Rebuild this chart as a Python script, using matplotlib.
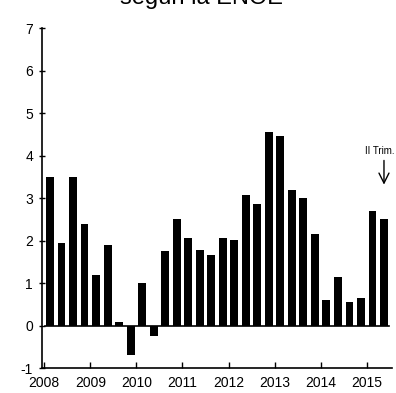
import matplotlib
matplotlib.use("Agg")
import matplotlib.pyplot as plt
import numpy as np

plt.rcParams['font.family'] = ['Liberation Sans', 'DejaVu Sans']

years = ['2008', '2009', '2010', '2011', '2012', '2013', '2014', '2015']
values = [3.5, 1.95, 3.5, 2.4, 1.2, 1.9, 0.08, -0.7, 1.0, -0.25,
          1.75, 2.5, 2.05, 1.78, 1.65, 2.05, 2.02, 3.08, 2.85, 4.55,
          4.45, 3.2, 3.0, 2.15, 0.6, 1.15, 0.55, 0.65, 2.7, 2.5]
yticks = [-1, 0, 1, 2, 3, 4, 5, 6, 7]

fig = plt.figure(figsize=(3.96, 3.93), dpi=100)
ax = fig.add_axes([0.106, 0.0636, 0.884, 0.865])
x = np.arange(len(values))
ax.bar(x, values, width=0.68, color='black', zorder=2)
ax.axhline(0, xmin=0.01, xmax=0.99, color='black', lw=1.2, zorder=3)
ax.set_xlim(-0.7, 29.7)
ax.set_ylim(-1, 7)
ax.set_yticks(yticks)
ax.set_yticklabels([str(t) for t in yticks])
ax.set_xticks([4 * i - 0.5 for i in range(len(years))])
ax.set_xticklabels(years)
for s in ['top', 'right']:
    ax.spines[s].set_visible(False)
for s in ['left', 'bottom']:
    ax.spines[s].set_linewidth(1.2)
ax.tick_params(axis='y', direction='inout', length=5, width=1, labelsize=10, pad=4)
ax.tick_params(axis='x', direction='in', length=4, width=1, labelsize=10, pad=6)
ax.annotate('', xy=(29, 3.25), xytext=(29, 3.95),
            arrowprops=dict(arrowstyle='->', color='black', lw=1,
                            mutation_scale=18))
ax.text(28.6, 4.0, 'II Trim.', ha='center', va='bottom', fontsize=7)
fig.text(0.51, 1.005, 'según la ENOE', ha='center', va='center', fontsize=17)
fig.savefig('out.png', dpi=100)
